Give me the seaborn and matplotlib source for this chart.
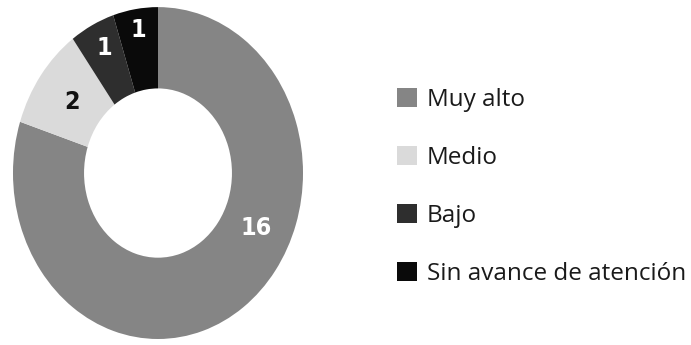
import numpy as np
import matplotlib
matplotlib.use("Agg")
import matplotlib.pyplot as plt
import seaborn as sns

# Nivel de atención por categoría
categories = ["Muy alto", "Medio", "Bajo", "Sin avance de atención"]
counts = [16, 2, 1, 1]
colors = ["#858585", "#dadada", "#2e2e2e", "#0a0a0a"]
label_colors = ["white", "#111111", "white", "white"]

sns.set_theme(style="white")
plt.rcParams["font.family"] = ["Open Sans", "DejaVu Sans"]

fig = plt.figure(figsize=(6.91, 3.45), dpi=100)
fig.patch.set_facecolor("white")

ax = fig.add_axes([0.0188, 0.0174, 0.4197, 0.962])
wedges, _ = ax.pie(counts, colors=colors, startangle=90, counterclock=False,
                   radius=1.0, wedgeprops=dict(width=0.49, linewidth=0))
ax.set_aspect("auto")
ax.set_xlim(-1, 1)
ax.set_ylim(-1, 1)

# Value labels: angle (clockwise from top, degrees) and radial distance
label_angles = [116, 306, 334, 351]
label_radii = [0.75, 0.73, 0.84, 0.87]
for val, ang, r, c in zip(counts, label_angles, label_radii, label_colors):
    t = np.deg2rad(90 - ang)
    ax.text(r * np.cos(t), r * np.sin(t), str(val), ha="center", va="center",
            fontsize=18, fontweight="bold", fontstretch="condensed", color=c,
            family=["DejaVu Sans"])

leg = fig.legend(wedges, categories, loc="upper left",
                 bbox_to_anchor=(0.560, 0.774), frameon=False,
                 fontsize=17.5, handlelength=0.85, handleheight=0.85,
                 handletextpad=0.4, labelspacing=1.4, borderaxespad=0)
for txt in leg.get_texts():
    txt.set_color("#1a1a1a")

fig.savefig("out.png", dpi=100, facecolor="white")
